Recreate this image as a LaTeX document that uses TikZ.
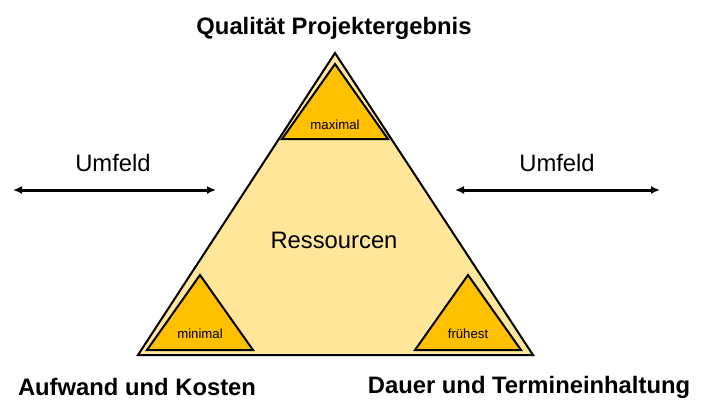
\documentclass[tikz,border=0pt]{standalone}
\usepackage{fontspec}
\setmainfont{Liberation Sans}
\usetikzlibrary{arrows.meta}
\definecolor{hellgelb}{HTML}{FFE699}
\definecolor{dunkelgelb}{HTML}{FFC000}
\tikzset{
  gross/.style={font=\fontsize{23.8}{28}\selectfont},
  klein/.style={font=\fontsize{13.2}{15}\selectfont},
  ecke/.style={draw,fill=dunkelgelb,line width=2pt},
  pfeil/.style={<->,line width=3pt}
}
\begin{document}
\begin{tikzpicture}[x=1pt,y=-1pt,>={Latex[length=9pt,width=8pt]}]
\useasboundingbox (0,0) rectangle (708,416);
\def\b{53}  % halbe Breite der Ecken
\def\h{75}  % Hoehe der Ecken
% grosses Dreieck
\coordinate (L) at (138,355);
\coordinate (R) at (533,355);
\coordinate (O) at (335,53);
\draw[fill=hellgelb,line width=2pt] (L) -- (R) -- (O) -- cycle;
% Ecken
\draw[ecke] ({335-\b},139) -- ({335+\b},139) -- (335,{139-\h}) -- cycle;
\draw[ecke] ({200-\b},350) -- ({200+\b},350) -- (200,{350-\h}) -- cycle;
\draw[ecke] ({468-\b},350) -- ({468+\b},350) -- (468,{350-\h}) -- cycle;
\node[klein] (max) at (335,125) {maximal};
\node[klein] (min) at (200,334) {minimal};
\node[klein] (frueh) at (468,334) {frühest};
\node[gross] (res) at (334,240) {Ressourcen};
% Beschriftung
\node[gross,font=\fontsize{23.8}{28}\selectfont\bfseries] (qual) at (334,28) {Qualität Projektergebnis};
\node[gross,font=\fontsize{23.8}{28}\selectfont\bfseries] (kost) at (137,387) {Aufwand und Kosten};
\node[gross,font=\fontsize{23.8}{28}\selectfont\bfseries] (dauer) at (529,387) {Dauer und Termineinhaltung};
% Umfeld
\coordinate (l1) at (13,190);
\coordinate (l2) at (216,190);
\coordinate (r1) at (455,190);
\coordinate (r2) at (660,190);
\draw[pfeil] (l1) -- (l2);
\draw[pfeil] (r1) -- (r2);
\node[gross] (uml) at (113,163) {Umfeld};
\node[gross] (umr) at (557,163) {Umfeld};
\end{tikzpicture}
\end{document}
